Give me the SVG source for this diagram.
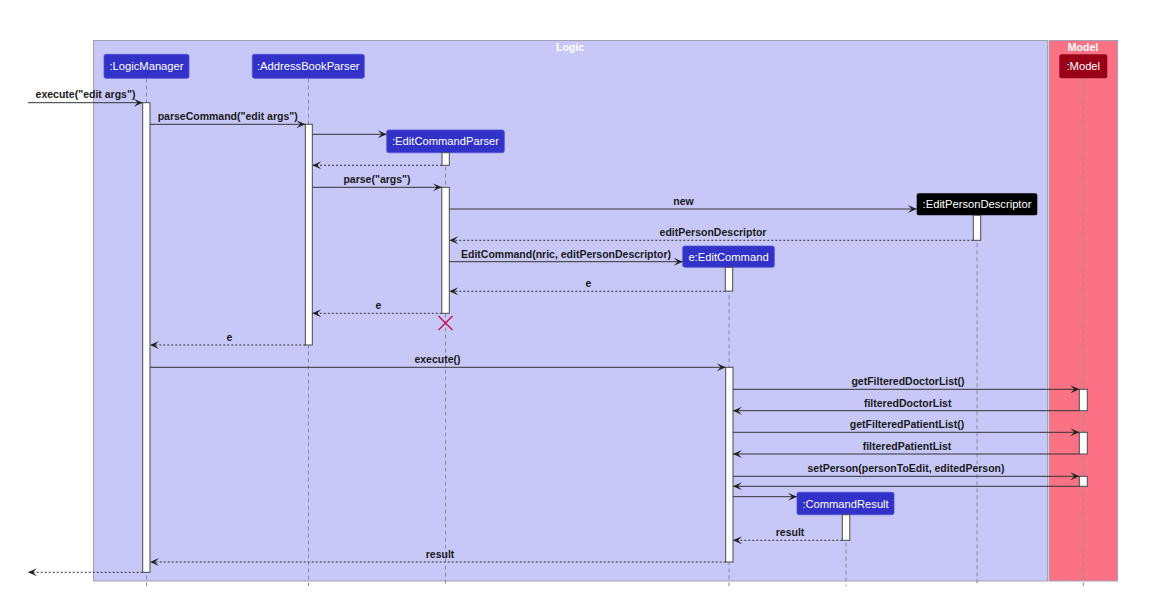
<svg xmlns="http://www.w3.org/2000/svg" width="1175" height="607" viewBox="0 0 1175 607">
<style>
.frame{stroke:#a2a2b6;stroke-width:1}
.title{font-family:"Liberation Sans",Arial,sans-serif;font-size:10.5px;font-weight:bold;fill:#ffffff;text-anchor:middle}
.pbox{fill:#3232c8;stroke:#5050d8;stroke-width:0.8}
.ptxt{font-family:"Liberation Sans",Arial,sans-serif;font-size:11.2px;fill:#ffffff;text-anchor:middle}
.life{stroke:#8a8aa0;stroke-width:1;stroke-dasharray:4,3;fill:none}
.act{fill:#ffffff;stroke:#4a4a4a;stroke-width:1}
.msg{stroke:#333333;stroke-width:1;fill:none;marker-end:url(#ah)}
.ret{stroke:#333333;stroke-width:1;fill:none;stroke-dasharray:2,2;marker-end:url(#ah)}
.lbl{font-family:"Liberation Sans",Arial,sans-serif;font-size:10.5px;font-weight:bold;fill:#1a1a1a;text-anchor:middle}
</style>
<defs>
<marker id="ah" viewBox="-10 -5 11 10" refX="0" refY="0" markerWidth="11" markerHeight="10" markerUnits="userSpaceOnUse" orient="auto">
<path d="M0,0 L-9,-4 L-5,0 L-9,4 Z" fill="#222222" stroke="none"/>
</marker>
</defs>
<rect width="1175" height="607" fill="#ffffff"/>
<g id="box-logic">
<rect class="frame" x="93.5" y="40.5" width="954" height="540.5" fill="#c8c8f8"/>
<text class="title" x="570" y="50.5">Logic</text>
</g>
<g id="box-model">
<rect class="frame" x="1049" y="40.5" width="68.5" height="540.5" fill="#fb7285"/>
<text class="title" x="1083" y="50.5">Model</text>
</g>
<g id="lifelines">
<line class="life" x1="146.5" y1="78.5" x2="146.5" y2="586"/>
<line class="life" x1="308.5" y1="78.5" x2="308.5" y2="586"/>
<line class="life" x1="445.5" y1="152.7" x2="445.5" y2="586"/>
<line class="life" x1="977" y1="215.3" x2="977" y2="586"/>
<line class="life" x1="729" y1="267.3" x2="729" y2="586"/>
<line class="life" x1="846" y1="514.7" x2="846" y2="586"/>
<line class="life" x1="1083.3" y1="78.5" x2="1083.3" y2="586"/>
</g>
<g id="p-logicmanager">
<rect class="pbox" x="104" y="54.3" width="85" height="24" rx="2"/>
<text class="ptxt" x="146.5" y="70.2">:LogicManager</text>
<rect class="act" x="142.7" y="102.7" width="7.3" height="469.6"/>
</g>
<g id="p-addressbookparser">
<rect class="pbox" x="252.3" y="54.3" width="112" height="24" rx="2"/>
<text class="ptxt" x="308.3" y="70.2">:AddressBookParser</text>
<rect class="act" x="305.3" y="124.3" width="7" height="220.7"/>
</g>
<g id="p-editcommandparser">
<rect class="pbox" x="386.7" y="130" width="117.6" height="22.7" rx="2"/>
<text class="ptxt" x="445.5" y="145.3">:EditCommandParser</text>
<rect class="act" x="442" y="152.7" width="7.3" height="12.6"/>
<rect class="act" x="441.8" y="187.3" width="7.5" height="126"/>
<path d="M438.5,316 L452.5,330 M452.5,316 L438.5,330" stroke="#c8175a" stroke-width="1.5" fill="none"/>
</g>
<g id="p-editpersondescriptor">
<rect x="916.7" y="193.3" width="120.6" height="22" rx="2" fill="#000000"/>
<text class="ptxt" x="977" y="208.3">:EditPersonDescriptor</text>
<rect class="act" x="973.3" y="215.3" width="7.4" height="25"/>
</g>
<g id="p-editcommand">
<rect class="pbox" x="682.7" y="246" width="91.6" height="21.3" rx="2"/>
<text class="ptxt" x="728.5" y="260.7">e:EditCommand</text>
<rect class="act" x="725.3" y="267.3" width="7.4" height="23.8"/>
<rect class="act" x="725.7" y="367.3" width="7.3" height="194.7"/>
</g>
<g id="p-commandresult">
<rect class="pbox" x="797" y="492.3" width="97" height="22.4" rx="2"/>
<text class="ptxt" x="845.5" y="507.5">:CommandResult</text>
<rect class="act" x="842.3" y="514.7" width="7.5" height="25.6"/>
</g>
<g id="p-model">
<rect x="1059.3" y="54.3" width="48" height="24" rx="2" fill="#990018"/>
<text class="ptxt" x="1083.3" y="70.2">:Model</text>
<rect class="act" x="1079.3" y="389.3" width="8" height="21.4"/>
<rect class="act" x="1079.3" y="432.3" width="8" height="21.7"/>
<rect class="act" x="1079.3" y="476.3" width="8" height="10"/>
</g>
<g id="connectors">
<line class="msg" x1="28" y1="102.7" x2="142.7" y2="102.7"/>
<text class="lbl" x="85.5" y="98.3">execute("edit args")</text>
<line class="msg" x1="150" y1="124.3" x2="305.3" y2="124.3"/>
<text class="lbl" x="227.7" y="120">parseCommand("edit args")</text>
<line class="msg" x1="312.3" y1="134.3" x2="386.7" y2="134.3"/>
<line class="ret" x1="442" y1="165.3" x2="312.3" y2="165.3"/>
<line class="msg" x1="312.3" y1="187.3" x2="441.8" y2="187.3"/>
<text class="lbl" x="377" y="183">parse("args")</text>
<line class="msg" x1="449.3" y1="209" x2="916.7" y2="209"/>
<text class="lbl" x="683.5" y="205">new</text>
<line class="ret" x1="973.3" y1="240.3" x2="449.3" y2="240.3"/>
<text class="lbl" x="713" y="235.5">editPersonDescriptor</text>
<line class="msg" x1="449.3" y1="261.7" x2="682.7" y2="261.7"/>
<text class="lbl" x="566" y="257.5">EditCommand(nric, editPersonDescriptor)</text>
<line class="ret" x1="725.3" y1="291.3" x2="449.3" y2="291.3"/>
<text class="lbl" x="588.5" y="287">e</text>
<line class="ret" x1="441.8" y1="313.3" x2="312.3" y2="313.3"/>
<text class="lbl" x="378.5" y="309">e</text>
<line class="ret" x1="305.3" y1="345" x2="150" y2="345"/>
<text class="lbl" x="229.3" y="341">e</text>
<line class="msg" x1="150" y1="367.3" x2="725.7" y2="367.3"/>
<text class="lbl" x="437.5" y="363">execute()</text>
<line class="msg" x1="733" y1="389.3" x2="1079.3" y2="389.3"/>
<text class="lbl" x="908" y="385">getFilteredDoctorList()</text>
<line class="msg" x1="1079.3" y1="410.7" x2="733" y2="410.7"/>
<text class="lbl" x="907.7" y="406.5">filteredDoctorList</text>
<line class="msg" x1="733" y1="432.3" x2="1079.3" y2="432.3"/>
<text class="lbl" x="907" y="428">getFilteredPatientList()</text>
<line class="msg" x1="1079.3" y1="454" x2="733" y2="454"/>
<text class="lbl" x="907" y="449.7">filteredPatientList</text>
<line class="msg" x1="733" y1="476.3" x2="1079.3" y2="476.3"/>
<text class="lbl" x="906" y="472">setPerson(personToEdit, editedPerson)</text>
<line class="msg" x1="1079.3" y1="486.3" x2="733" y2="486.3"/>
<line class="msg" x1="733" y1="496.7" x2="797" y2="496.7"/>
<line class="ret" x1="842.3" y1="540.3" x2="733" y2="540.3"/>
<text class="lbl" x="790" y="536.3">result</text>
<line class="ret" x1="725.7" y1="562" x2="150" y2="562"/>
<text class="lbl" x="440" y="558.3">result</text>
<line class="ret" x1="142.7" y1="572.3" x2="28" y2="572.3"/>
</g>
</svg>
